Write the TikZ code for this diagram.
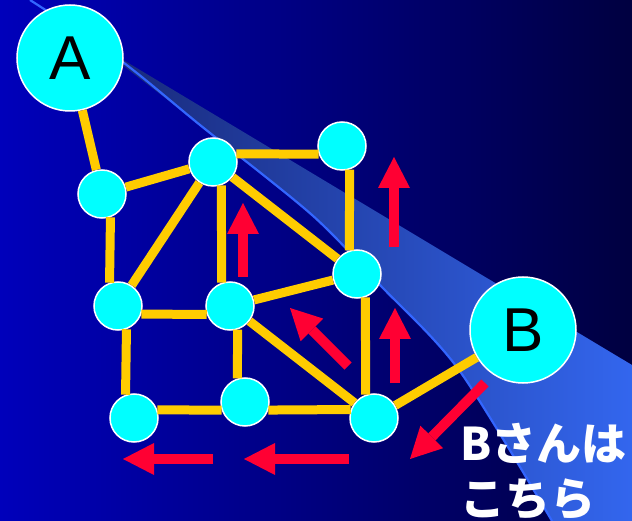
\documentclass[tikz,border=0pt]{standalone}
\usepackage{fontspec}
\newfontfamily\arialfont{Liberation Sans}
\newfontfamily\jpfont{Noto Sans CJK JP}
\usetikzlibrary{arrows.meta}
\definecolor{bgleft}{HTML}{0000BB}
\definecolor{bgright}{HTML}{000040}
\definecolor{bandleft}{HTML}{182878}
\definecolor{bandright}{HTML}{3366EE}
\definecolor{bandline}{HTML}{3366FF}
\definecolor{nodecyan}{HTML}{00FFFF}
\definecolor{linkgold}{HTML}{FFCC00}
\definecolor{flowred}{HTML}{FF0033}

\begin{document}
\begin{tikzpicture}[
    x=1pt, y=-1pt,
    router/.style={circle, fill=nodecyan, draw=white, line width=1.5pt,
      minimum size=48pt, inner sep=0pt},
    host/.style={router, minimum size=106pt,
      font=\arialfont\fontsize{62}{62}\selectfont},
    link/.style={linkgold, line width=9pt},
    flow/.style={flowred, line width=10pt,
      -{Triangle[length=31pt, width=32pt, line width=0pt]}},
  ]

  % Background
  \useasboundingbox (0,0) rectangle (632,521);
  \shade[left color=bgleft, right color=bgright] (0,0) rectangle (632,521);

  % Light band
  \shade[left color=bandleft, right color=bandright]
    (100,46) -- (632,365) -- (632,521)
    -- plot[smooth] coordinates {(552,521) (459,370) (380,285) (312,215) (200,125) (100,48)}
    -- cycle;
  \draw[bandline, line width=2.2pt] plot[smooth] coordinates
    {(30,0) (120,60) (200,125) (312,215) (380,285) (459,370) (552,521)};

  % === Nodes ===
  \node[host] (A) at (70,58) {A};
  \node[host] (B) at (523,330) {B};
  \node[router] (n1) at (102,194) {};
  \node[router] (n2) at (213,162) {};
  \node[router] (n3) at (342,146) {};
  \node[router] (n4) at (357,274) {};
  \node[router] (n5) at (118,306) {};
  \node[router] (n6) at (230,306) {};
  \node[router] (n7) at (134,418) {};
  \node[router] (n8) at (245,402) {};
  \node[router] (n9) at (374,418) {};

  % === Links ===
  \draw[link] (A) -- (n1);
  \draw[link] (n1) -- (n2);
  \draw[link] (n1.-70) -- (n5.110);
  \draw[link] (n2.19.5) -- (n3.199.5);
  \draw[link] (n2) -- (n5);
  \draw[link] (n2.-70) -- (n6.110);
  \draw[link] (n2) -- (n4);
  \draw[link] (n3.-72) -- (n4.108);
  \draw[link] (n5.-19.5) -- (n6.-160.5);
  \draw[link] (n6) -- (n4);
  \draw[link] (n5.-70) -- (n7.110);
  \draw[link] (n6.-72) -- (n8.108);
  \draw[link] (n6) -- (n9);
  \draw[link] (n4.-70) -- (n9.110);
  \draw[link] (n7.19.5) -- (n8.199.5);
  \draw[link] (n8.-19.5) -- (n9.160.5);
  \draw[link] (n9) -- (B);

  % === Flow arrows ===
  \draw[flow] (243,277) -- (243,203);
  \draw[flow] (394,247) -- (394,157);
  \draw[flow] (395,383) -- (395,308);
  \draw[flow] (348,366) -- (290,308);
  \draw[flow] (485,383) -- (410,459);
  \draw[flow] (213,459) -- (123,459);
  \draw[flow] (349,459) -- (244,459);

  % Label (base anchor sits on the last line)
  \node[anchor=base west, text=white, align=left, inner sep=0pt,
        font=\jpfont\bfseries\fontsize{45}{55}\selectfont] (label) at (460,515)
    {Bさんは\\こちら};

\end{tikzpicture}
\end{document}
